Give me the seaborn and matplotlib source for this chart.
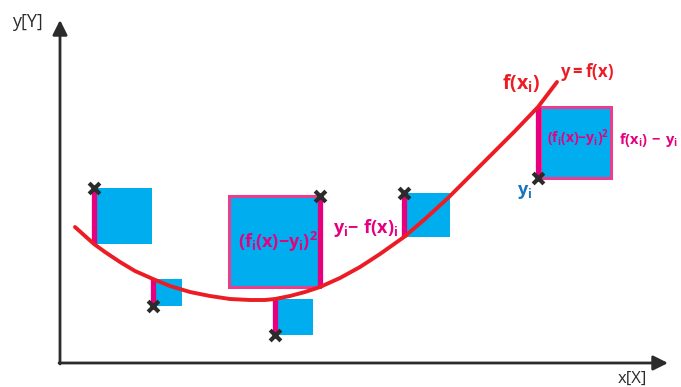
import matplotlib
matplotlib.use('Agg')
import matplotlib.pyplot as plt
import seaborn as sns
from matplotlib.patches import Rectangle

# observed points (x_i, y_i) and fitted values f(x_i)
x_obs = [34, 93, 215, 260, 344, 478]
y_obs = [175, 57, 28, 167, 170, 185]
f_obs = [119, 84, 64, 76, 126, 256]
# which side of the residual line the square sits on
side = [1, 1, 1, -1, 1, 1]
framed = [False, False, False, True, False, True]

# curve y=f(x)
curve_x = [15, 25, 34, 45, 60, 75, 93, 110, 130, 150, 170, 190, 205, 215, 230,
           245, 260, 280, 300, 320, 344, 365, 388, 410, 430, 455, 478, 497]
curve_y = [136, 127, 119, 111, 101, 92, 84, 77, 71, 67, 64, 63, 63, 64, 67,
           71, 76, 85, 96, 109, 126, 144, 165, 187, 207, 232, 256, 281]

RED = '#ec1c24'
MAG = '#e6007e'
BLUE = '#00aeef'
DARK = '#2b2b2b'

sns.set_style('white')
plt.rcParams['mathtext.fontset'] = 'custom'
plt.rcParams['mathtext.rm'] = 'Open Sans:bold'
plt.rcParams['mathtext.it'] = 'Open Sans:bold'
plt.rcParams['font.family'] = ['Open Sans', 'DejaVu Sans']

fig = plt.figure(figsize=(6.81, 3.87), dpi=100)
ax = fig.add_axes([0, 0, 1, 1])
ax.set_xlim(-60, 621)
ax.set_ylim(-24, 363)
ax.axis('off')

# axes with arrows
ax.annotate('', xy=(0, 343), xytext=(0, -1),
            arrowprops=dict(arrowstyle='-|>', lw=2, color=DARK, mutation_scale=22, shrinkA=0, shrinkB=0))
ax.annotate('', xy=(608, 0), xytext=(-1, 0),
            arrowprops=dict(arrowstyle='-|>', lw=2, color=DARK, mutation_scale=22, shrinkA=0, shrinkB=0))
ax.text(-48, 341, 'y[Y]', fontsize=13, color=DARK, ha='left', va='center')
ax.text(572, -8, 'x[X]', fontsize=12, color=DARK, ha='center', va='top')

# squares of the residuals
for xi, yi, fi, s, fr in zip(x_obs, y_obs, f_obs, side, framed):
    r = abs(yi - fi)
    x0 = xi + 2 if s > 0 else xi - r
    rect = Rectangle((x0, min(yi, fi)), r, r, facecolor=BLUE,
                     edgecolor='#e83e8c' if fr else 'none', lw=2.2 if fr else 0, zorder=1)
    ax.add_patch(rect)

# residual lines
ax.vlines(x_obs, y_obs, f_obs, color=MAG, lw=3.8, zorder=2)

sns.lineplot(x=curve_x, y=curve_y, sort=False, color=RED, lw=2.8, ax=ax, zorder=3)
sns.scatterplot(x=x_obs, y=y_obs, marker='x', s=60, linewidth=3, color=DARK, ax=ax, zorder=4)

# labels
ax.text(461, 279, r'$f(x_i)$', fontsize=14, color=RED, ha='center', va='center')
ax.text(527, 291, r'$y{=}f(x)$', fontsize=12, color=RED, ha='center', va='center')
ax.text(218, 121, r'$(f_i(x){-}y_i)^2$', fontsize=13, color=MAG, ha='center', va='center')
ax.text(273, 135, r'$y_i{-}\ f(x)_i$', fontsize=13, color=MAG, ha='left', va='center')
ax.text(518, 225, r'$(f_i(x){-}y_i)^2$', fontsize=10, color=MAG, ha='center', va='center')
ax.text(559, 223, r'$f(x_i)\,-\,y_i$', fontsize=10.5, color=MAG, ha='left', va='center')
ax.text(465, 171, r'$y_i$', fontsize=13, color='#1b75bb', ha='center', va='center')

fig.savefig('out.png', dpi=100)
